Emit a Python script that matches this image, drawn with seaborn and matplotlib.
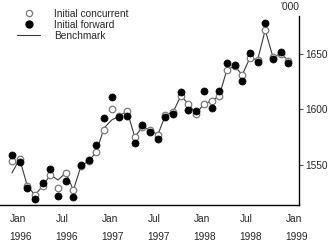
import matplotlib
matplotlib.use("Agg")
import matplotlib.pyplot as plt
import matplotlib.transforms as mtransforms
from matplotlib.lines import Line2D
import seaborn as sns
import pandas as pd

# month index 0 = Jan 1996 ... 36 = Jan 1999
months = list(range(37))
initial_forward = [1558.7, 1552.4, 1528.9, 1519.0, 1533.4, 1546.1, 1521.7, 1535.2, 1520.8, 1549.7,
                   1554.2, 1567.8, 1592.1, 1611.1, 1593.0, 1593.9, 1569.6, 1585.8, 1579.5, 1573.2,
                   1593.0, 1595.8, 1615.6, 1599.4, 1598.5, 1616.5, 1601.2, 1616.5, 1641.8, 1640.0,
                   1625.6, 1650.9, 1642.7, 1678.0, 1645.4, 1651.8, 1641.8]
initial_concurrent = [1553.3, 1555.1, 1530.7, 1522.5, 1530.7, 1540.7, 1528.9, 1542.5, 1527.1, 1548.8,
                      1553.3, 1561.4, 1581.3, 1600.3, 1593.9, 1598.5, 1575.0, 1584.0, 1581.3, 1576.8,
                      1594.9, 1597.6, 1612.0, 1604.8, 1595.8, 1604.8, 1607.5, 1612.0, 1635.5, 1639.1,
                      1631.0, 1646.3, 1644.5, 1671.6, 1647.2, 1650.0, 1643.6]
benchmark = [1542.5, 1555.1, 1530.7, 1522.5, 1530.7, 1540.7, 1536.1, 1542.5, 1527.1, 1548.8,
             1553.3, 1561.4, 1583.1, 1590.3, 1593.9, 1598.5, 1575.0, 1584.0, 1581.3, 1576.8,
             1594.9, 1597.6, 1612.0, 1604.8, 1595.8, 1604.8, 1607.5, 1612.0, 1635.5, 1639.1,
             1631.0, 1646.3, 1644.5, 1671.6, 1647.2, 1650.0, 1644.5]
major_ticks = [0, 6, 12, 18, 24, 30, 36]
major_labels = ["Jan\n1996", "Jul\n1996", "Jan\n1997", "Jul\n1997",
                "Jan\n1998", "Jul\n1998", "Jan\n1999"]
y_ticks = [1550, 1600, 1650]

df = pd.DataFrame({"month": months, "forward": initial_forward,
                   "concurrent": initial_concurrent, "benchmark": benchmark})

sns.set_style("white")
plt.rcParams["font.family"] = ["Liberation Sans", "DejaVu Sans"]
plt.rcParams["font.size"] = 7.3

fig = plt.figure(figsize=(3.28, 2.47), dpi=100)
ax = fig.add_axes([0.0, 42 / 247, 299 / 328, 189.3 / 247])

sns.lineplot(data=df, x="month", y="benchmark", ax=ax, color="#3a3a3a",
             linewidth=0.8, zorder=2)
sns.scatterplot(data=df, x="month", y="concurrent", ax=ax, marker="o", s=22,
                facecolor="white", edgecolor="#7a7a7a", linewidth=0.9, zorder=3)
sns.scatterplot(data=df, x="month", y="forward", ax=ax, marker="o", s=26,
                color="black", edgecolor="black", linewidth=0.5, zorder=4)

ax.set_xlim(-1.56, 37.4)
ax.set_ylim(1513.5, 1684.5)
ax.set_xlabel("")
ax.set_ylabel("")

for s in ["top", "left"]:
    ax.spines[s].set_visible(False)
for s in ["bottom", "right"]:
    ax.spines[s].set_color("black")
    ax.spines[s].set_linewidth(1.0)

ax.yaxis.tick_right()
ax.set_yticks(y_ticks)
ax.set_yticklabels([str(v) for v in y_ticks])
ax.tick_params(axis="y", which="both", direction="out", length=3, width=0.8,
               color="#555555", pad=1.5, labelsize=7.3)

ax.set_xticks(major_ticks)
ax.set_xticklabels(major_labels, ha="left", linespacing=2.0)
ax.set_xticks(months, minor=True)
ax.tick_params(axis="x", which="major", direction="out", length=4.5, width=1.0,
               color="#888888", pad=2, labelsize=7.3)
ax.tick_params(axis="x", which="minor", direction="out", length=3.5, width=1.0,
               color="#555555")
offset = mtransforms.ScaledTranslation(-2.5 / 100, 0, fig.dpi_scale_trans)
for lab in ax.get_xticklabels():
    lab.set_transform(lab.get_transform() + offset)

fig.text(299 / 328, 1 - 7 / 247, "'000", ha="right", va="center", fontsize=7.3)

handles = [
    Line2D([], [], linestyle="none", marker="o", markersize=4.5,
           markerfacecolor="white", markeredgecolor="#7a7a7a", markeredgewidth=0.9),
    Line2D([], [], linestyle="none", marker="o", markersize=5,
           markerfacecolor="black", markeredgecolor="black"),
    Line2D([], [], color="#3a3a3a", linewidth=0.8),
]
ax.legend(handles, ["Initial concurrent", "Initial forward", "Benchmark"],
          loc="upper left", bbox_to_anchor=(0.043, 1.057), frameon=False,
          handlelength=2.3, handletextpad=1.4, labelspacing=0.08,
          borderaxespad=0, fontsize=7.3)

fig.savefig("out.png", dpi=100)
